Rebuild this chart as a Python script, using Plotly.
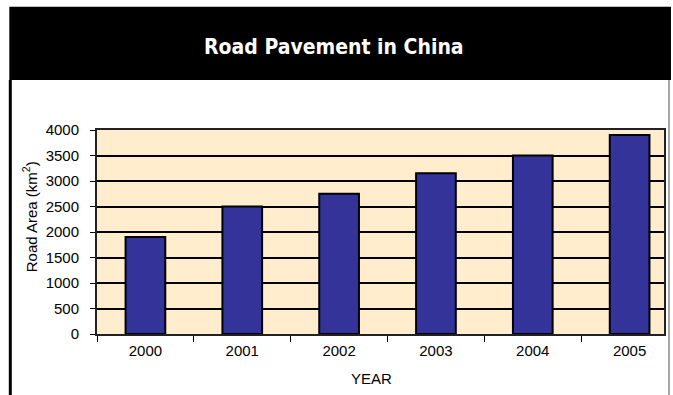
import plotly.graph_objects as go

# Paved road area by year
years = ["2000", "2001", "2002", "2003", "2004", "2005"]
road_area = [1900, 2500, 2750, 3150, 3500, 3900]
y_ticks = [0, 500, 1000, 1500, 2000, 2500, 3000, 3500, 4000]

W, H = 673, 395
L, R, T, B = 97, 666, 130, 334  # plot area in pixels


def px(x):
    return (x - L) / (R - L)


def py(y):
    return (B - y) / (B - T)


fig = go.Figure(
    go.Bar(
        x=years,
        y=road_area,
        marker=dict(color="#333399", line=dict(color="#000000", width=2)),
    )
)

shapes = [
    # black header band
    dict(type="rect", xref="paper", yref="paper", x0=px(9), x1=px(673), y0=py(7), y1=py(80),
         fillcolor="#000000", line=dict(width=0), layer="above"),
    # thin grey rule above the header
    dict(type="line", xref="paper", yref="paper", x0=px(9), x1=px(673), y0=py(6.5), y1=py(6.5),
         line=dict(color="#bdbdbd", width=1)),
    # left frame edge
    dict(type="line", xref="paper", yref="paper", x0=px(10), x1=px(10), y0=py(80), y1=py(396),
         line=dict(color="#000000", width=3)),
    # right frame edge
    dict(type="line", xref="paper", yref="paper", x0=px(671), x1=px(671), y0=py(80), y1=py(396),
         line=dict(color="#8a8a8a", width=1.5)),
]

annotations = [
    dict(text="<b>Road Pavement in China</b>", xref="paper", yref="paper",
         x=px(335), y=py(47), showarrow=False, xanchor="center", yanchor="middle",
         font=dict(family="DejaVu Sans Condensed, Liberation Sans Narrow, Liberation Sans",
                   size=21, color="#ffffff")),
    dict(text="YEAR", xref="paper", yref="paper", x=px(372), y=py(378), showarrow=False,
         xanchor="center", yanchor="middle",
         font=dict(family="Liberation Sans, Arial", size=15, color="#000000")),
    dict(text="Road Area (km<sup>2</sup>)", xref="paper", yref="paper", x=px(29), y=py(217),
         showarrow=False, textangle=-90, xanchor="center", yanchor="middle",
         font=dict(family="Liberation Sans, Arial", size=15, color="#000000")),
]

fig.update_layout(
    width=W,
    height=H,
    margin=dict(l=L, r=W - R, t=T, b=H - B, pad=0),
    paper_bgcolor="#ffffff",
    plot_bgcolor="#FFEDCE",
    bargap=0.59,
    showlegend=False,
    shapes=shapes,
    annotations=annotations,
    font=dict(family="Liberation Sans, Arial", size=15, color="#000000"),
)

fig.update_xaxes(
    type="category",
    range=[-0.5, 5.355],
    tickson="boundaries",
    ticks="outside",
    ticklen=6,
    tickwidth=1,
    tickcolor="#000000",
    ticklabelstandoff=2,
    showline=True,
    linecolor="#222222",
    linewidth=2,
    mirror=True,
    showgrid=False,
    tickfont=dict(size=15),
)

fig.update_yaxes(
    range=[0, 4000],
    tickvals=y_ticks,
    ticks="outside",
    ticklen=5,
    tickwidth=1,
    tickcolor="#000000",
    ticklabelstandoff=8,
    showline=True,
    linecolor="#222222",
    linewidth=2,
    mirror=True,
    showgrid=True,
    gridcolor="#000000",
    gridwidth=1.5,
    zeroline=False,
    tickfont=dict(size=15),
)

fig.write_html("out.html")
